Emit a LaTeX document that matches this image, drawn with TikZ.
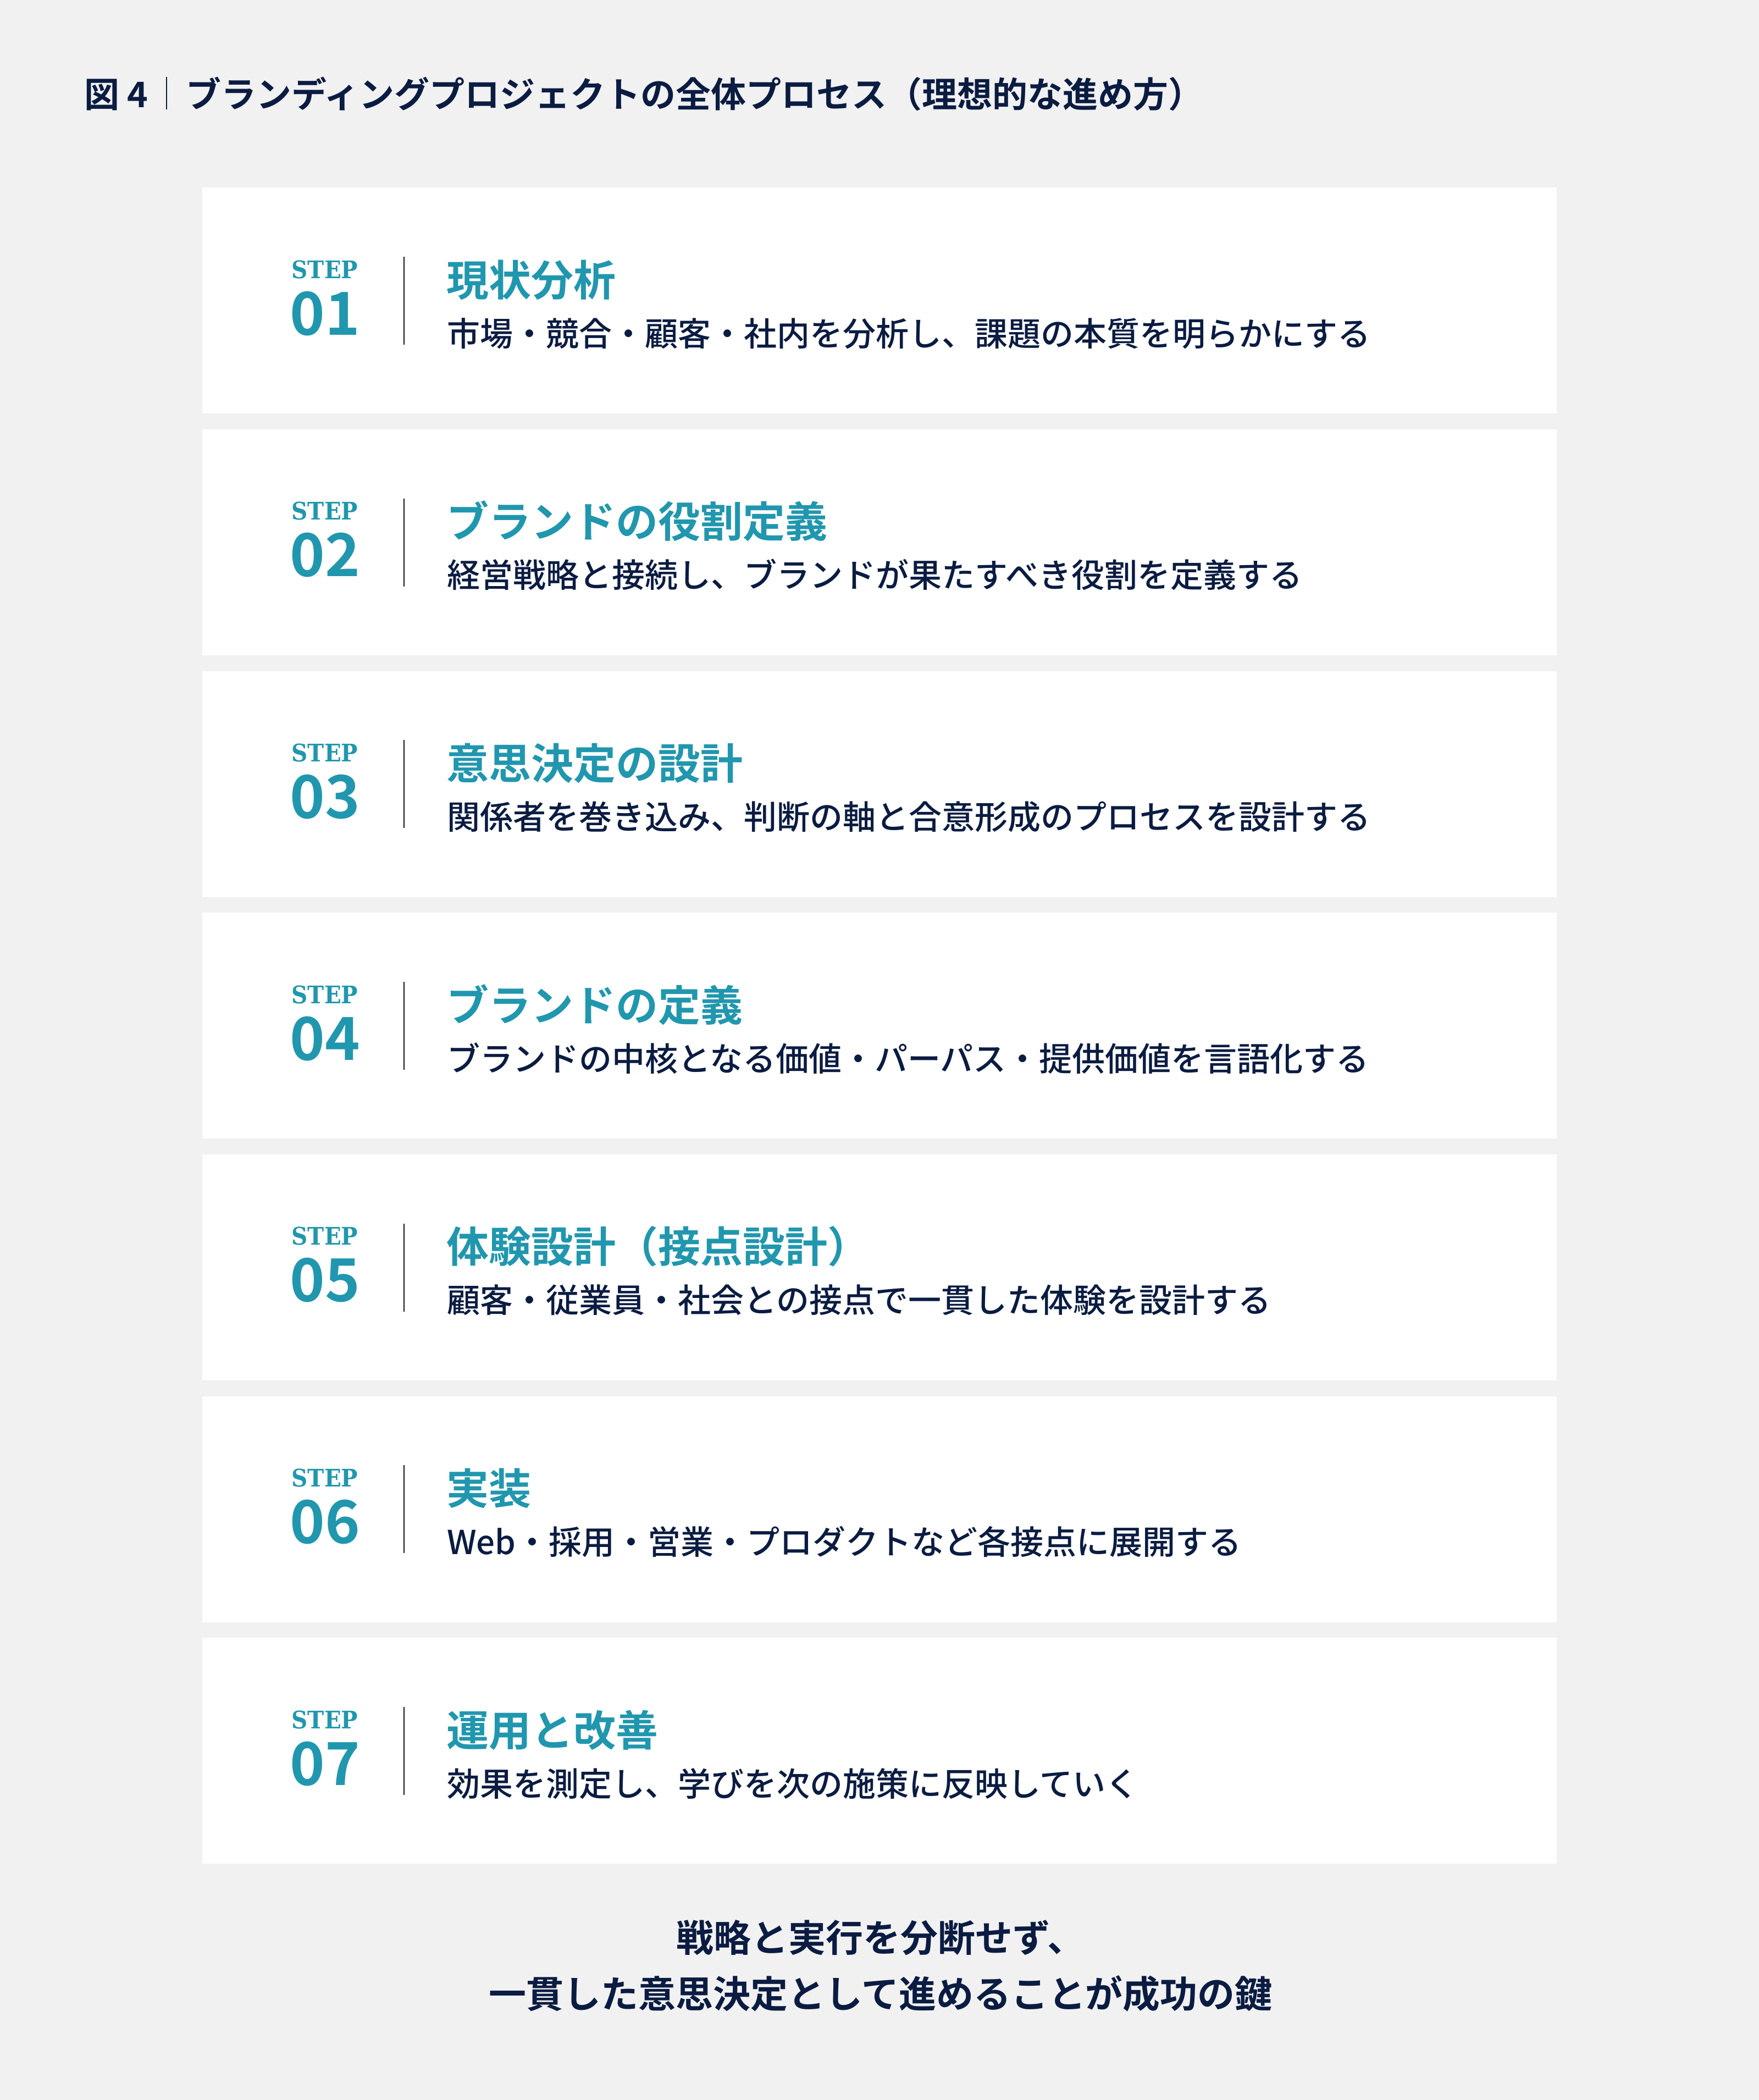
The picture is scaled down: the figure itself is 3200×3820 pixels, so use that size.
\documentclass[tikz,border=0pt]{standalone}
\usepackage{fontspec}
\setmainfont{Noto Sans CJK JP}[BoldFont={Noto Sans CJK JP Bold}]
\newfontfamily\jpbold{Noto Sans CJK JP Bold}
\newfontfamily\jpmed{Noto Sans CJK JP Medium}
\newfontfamily\slabfont[FakeStretch=0.92]{DejaVu Serif Bold}
\definecolor{bgcol}{HTML}{F1F1F1}
\definecolor{stepteal}{HTML}{2097AE}
\definecolor{navyink}{HTML}{0B1C42}
\tikzset{
  card/.style={fill=white, draw=none, inner sep=0, minimum width=2464pt, minimum height=411pt, anchor=north west},
  steplbl/.style={font=\slabfont\fontsize{44}{44}\selectfont, text=stepteal, anchor=base, inner sep=0},
  stepnum/.style={font=\jpbold\fontsize{108}{108}\selectfont, text=stepteal, anchor=base, inner sep=0},
  divider/.style={draw=black!92, line width=2pt},
  ttl/.style={font=\jpbold\fontsize{77}{77}\selectfont, text=stepteal, anchor=base west, inner sep=0},
  dsc/.style={font=\jpmed\fontsize{60}{60}\selectfont, text=navyink, anchor=base west, inner sep=0},
  headtxt/.style={font=\jpbold\fontsize{64}{64}\selectfont, text=navyink, anchor=base west, inner sep=0},
  foot/.style={font=\jpbold\fontsize{68}{68}\selectfont, text=navyink, anchor=base, inner sep=0},
}
\begin{document}
\begin{tikzpicture}[x=1pt,y=-1pt]
\fill[bgcol] (0,0) rectangle (3200,3820);
\useasboundingbox (0,0) rectangle (3200,3820);
% header
\node[headtxt] (fig) at (153,195) {図 4};
\draw[navyink, line width=2pt] (303,140) -- (303,199);
\node[headtxt] (head) at (338,195) {ブランディングプロジェクトの全体プロセス（理想的な進め方）};
% steps
\foreach \i/\n/\t/\d in {
  1/01/現状分析/市場・競合・顧客・社内を分析し、課題の本質を明らかにする,
  2/02/ブランドの役割定義/経営戦略と接続し、ブランドが果たすべき役割を定義する,
  3/03/意思決定の設計/関係者を巻き込み、判断の軸と合意形成のプロセスを設計する,
  4/04/ブランドの定義/ブランドの中核となる価値・パーパス・提供価値を言語化する,
  5/05/体験設計（接点設計）/顧客・従業員・社会との接点で一貫した体験を設計する,
  6/06/実装/Web・採用・営業・プロダクトなど各接点に展開する,
  7/07/運用と改善/効果を測定し、学びを次の施策に反映していく}{
  \pgfmathsetmacro{\tp}{341+439.67*(\i-1)}
  \node[card] (card\i) at (368,\tp) {};
  \node[steplbl] (lbl\i) at (591,\tp+165) {STEP};
  \node[stepnum] (num\i) at (591,\tp+268) {\n};
  \draw[divider] (735,\tp+126) -- (735,\tp+286);
  \node[ttl] (ttl\i) at (812,\tp+197) {\t};
  \node[dsc] (dsc\i) at (813,\tp+288) {\d};
}
% footer
\node[foot] (foot1) at (1602,3550) {戦略と実行を分断せず、};
\node[foot] (foot2) at (1602,3652) {一貫した意思決定として進めることが成功の鍵};
\end{tikzpicture}
\end{document}
